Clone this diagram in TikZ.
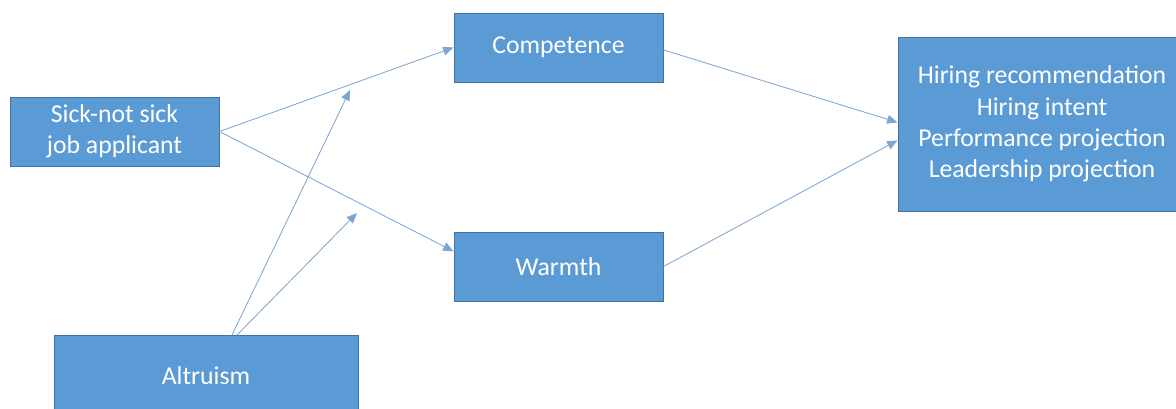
\documentclass[tikz,border=0pt]{standalone}
\usepackage{fontspec}
\setmainfont{Carlito}
\usetikzlibrary{arrows.meta}
\definecolor{boxblue}{HTML}{5B9BD5}
\definecolor{boxedge}{HTML}{41719C}
\definecolor{linkblue}{HTML}{7FA6D2}
\tikzset{
    varbox/.style={draw=boxedge, fill=boxblue, line width=0.7pt, text=white,
        align=center, inner sep=0pt, minimum width=5.225cm, minimum height=1.725cm,
        font=\fontsize{18.3}{22.3}\selectfont},
    link/.style={draw=linkblue, line width=0.6pt, -{Triangle[length=2.6mm,width=2.2mm]}}
}
\begin{document}
\begin{tikzpicture}
    \useasboundingbox (0,0) rectangle (29.4,-10.225);

    % Variablen
    \node[varbox] (sick) at (2.8625,-3.2875) {Sick-not sick\\job applicant};
    \node[varbox] (comp) at (13.9625,-1.1875) {Competence};
    \node[varbox] (warm) at (13.9625,-6.6625) {Warmth};
    \node[varbox, minimum width=7.2cm, minimum height=4.35cm] (out) at (26.05,-3.1)
        {Hiring recommendation\\Hiring intent\\Performance projection\\Leadership projection};
    \node[varbox, minimum width=7.6cm, minimum height=2.05cm] (alt) at (5.15,-9.4)
        {Altruism};

    % Moderation
    \coordinate (altA) at (5.8,-8.375);
    \coordinate (altB) at (5.925,-8.375);
    \coordinate (modA) at (8.75,-2.25);
    \coordinate (modB) at (8.925,-5.325);

    % Pfade
    \draw[link] (sick.east) -- (comp.west);
    \draw[link] (sick.east) -- ([yshift=0.38cm]warm.west);
    \draw[link] ([yshift=-0.06cm]comp.east) -- ([yshift=0.04cm]out.west);
    \draw[link] (warm.east) -- ([yshift=-0.41cm]out.west);
    \draw[link] (altA) -- (modA);
    \draw[link] (altB) -- (modB);
\end{tikzpicture}
\end{document}
